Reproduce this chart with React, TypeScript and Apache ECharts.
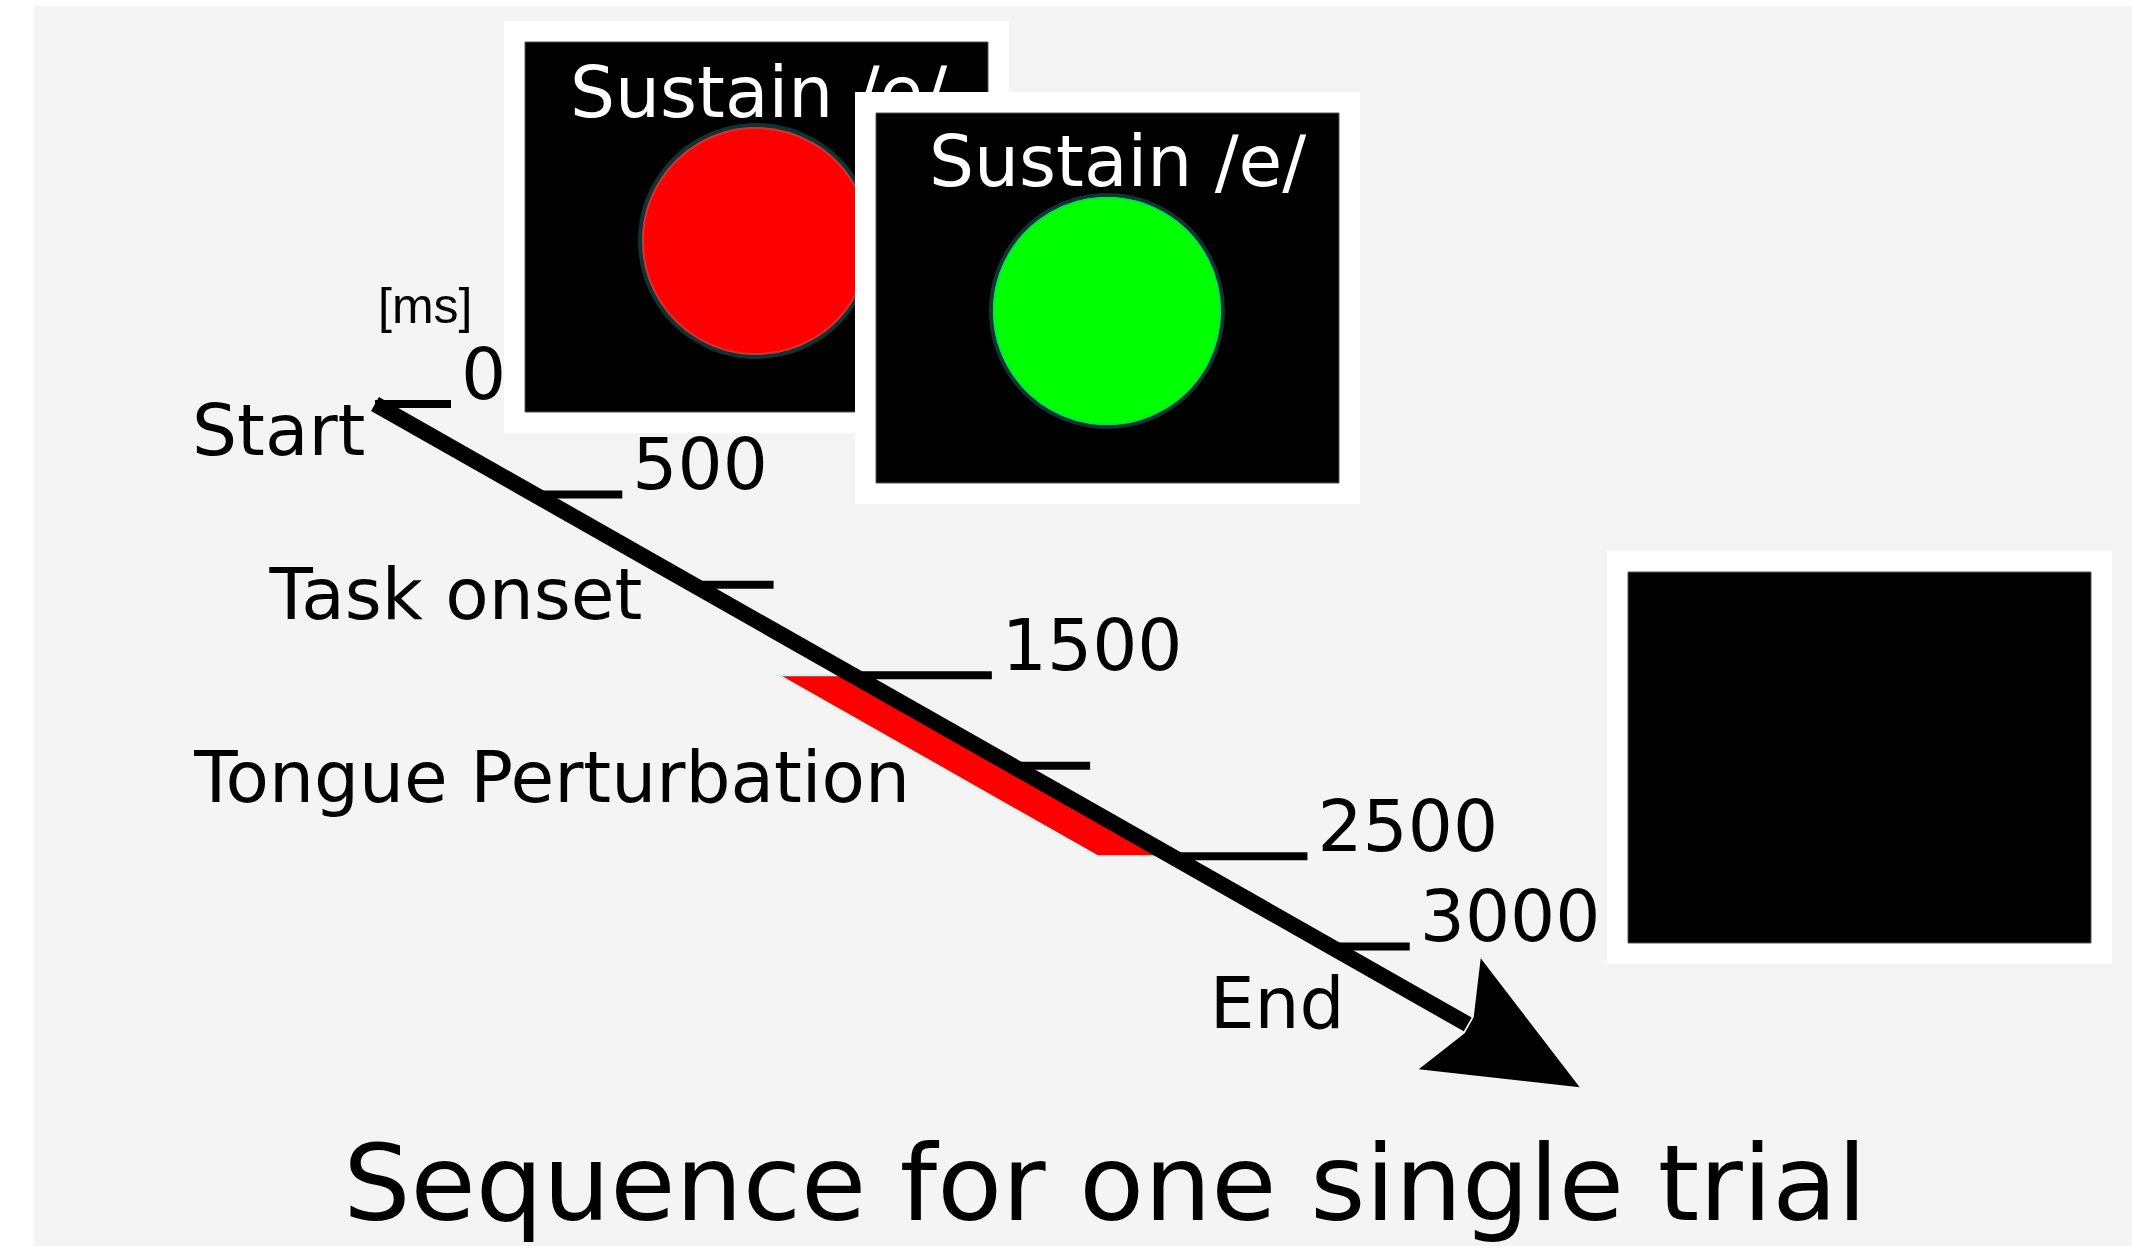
import React, { useEffect, useRef } from "react";
import * as echarts from "echarts";

// ---------- data ----------
const tickTimes = [0, 500, 1000, 1500, 2000, 2500, 3000];
const tickLabels = ["0", "500", "", "1500", "", "2500", "3000"];
const eventNames = ["Start", "Task onset", "Tongue Perturbation", "End"];
const eventTimes = [0, 1000, 2000, 3000];
const perturbationWindow = [1500, 2500];
const timelineRange = [0, 3430];
const unitLabel = "[ms]";
const cueTexts = ["Sustain /e/", "Sustain /e/"];
const titleText = "Sequence for one single trial";

// ---------- styles ----------
const FONT = "DejaVu Sans";
const FS = 71;
const LINE_W = 16;
const TICK_LEN = [60, 72, 64, 123, 62, 120, 63];
const EVENT_OFFSETS = [
  [-183, 26],
  [-424, 10],
  [-818, 12],
  [-121, 57],
];

function panel(x: number, y: number, h: number, children: any[]) {
  return {
    type: "group",
    x,
    y,
    children: [
      { type: "rect", shape: { x: 0, y: 0, width: 505, height: h }, style: { fill: "#ffffff" } },
      {
        type: "rect",
        shape: { x: 21, y: 21, width: 463, height: h - 42 },
        style: { fill: "#000000", stroke: "#555555", lineWidth: 1 },
      },
      ...children,
    ],
  };
}

function cue(cx: number, cy: number, fill: string, ring: string, tx: number, ty: number, text: string) {
  return [
    { type: "circle", shape: { cx, cy, r: 116 }, style: { fill, stroke: "#0e3434", lineWidth: 4 } },
    { type: "circle", shape: { cx, cy, r: 113 }, style: { fill: "none", stroke: ring, lineWidth: 2 } },
    {
      type: "text",
      x: tx,
      y: ty,
      style: { text, fill: "#ffffff", fontSize: FS, fontFamily: FONT, align: "left", verticalAlign: "middle" },
    },
  ];
}

export default function App() {
  const ref = useRef<HTMLDivElement>(null);
  useEffect(() => {
    const chart = echarts.init(ref.current!, undefined, { renderer: "svg", width: 2132, height: 1246 });
    const option: any = {
      animation: false,
      backgroundColor: "#ffffff",
      grid: { left: 375, top: 404, width: 1115, height: 633, containLabel: false },
      xAxis: { type: "value", min: 0, max: 3500, show: false },
      yAxis: { type: "value", min: 0, max: 3500, inverse: true, show: false },
      graphic: [
        { type: "rect", shape: { x: 34, y: 6, width: 2098, height: 1240 }, style: { fill: "#f4f4f4" } },
        panel(504, 21, 412, cue(252, 220, "#ff0000", "#c83737", 66, 71, cueTexts[0])),
        panel(855, 92, 412, cue(252, 219, "#00ff00", "#00e844", 74, 69, cueTexts[1])),
        panel(1607, 551, 413, []),
        {
          type: "text",
          x: 378,
          y: 306,
          style: { text: unitLabel, fill: "#000", fontSize: 50, fontFamily: "Liberation Sans", align: "left", verticalAlign: "middle" },
        },
        {
          type: "text",
          x: 1105,
          y: 1183,
          style: { text: titleText, fill: "#000", fontSize: 106, fontFamily: FONT, align: "center", verticalAlign: "middle" },
        },
      ],
      series: [
        {
          type: "custom",
          z: 1,
          silent: true,
          data: [[perturbationWindow[0], perturbationWindow[1]]],
          renderItem: (_p: any, api: any) => {
            const a = api.value(0);
            const b = api.value(1);
            const p1 = api.coord([a, a]);
            const p2 = api.coord([b, b]);
            const off = LINE_W;
            const w = 58;
            return {
              type: "polygon",
              shape: {
                points: [
                  [p1[0] - off + 6, p1[1]],
                  [p2[0] - off + 6, p2[1]],
                  [p2[0] - off - w, p2[1]],
                  [p1[0] - off - w, p1[1]],
                ],
              },
              style: { fill: "#ff0000", stroke: "#c6f2f2", lineWidth: 2 },
            };
          },
        },
        {
          type: "line",
          z: 2,
          silent: true,
          clip: false,
          showSymbol: false,
          symbol: "none",
          data: [
            [timelineRange[0], timelineRange[0]],
            [timelineRange[1], timelineRange[1]],
          ],
          lineStyle: { color: "#000000", width: LINE_W },
        },
        {
          type: "custom",
          z: 3,
          silent: true,
          data: [[timelineRange[1], timelineRange[1]]],
          renderItem: (_p: any, api: any) => {
            const t = api.value(0);
            const p = api.coord([t, t]);
            const rel = [
              [13, -66],
              [6, -7],
              [-3, 9],
              [-49, 45],
              [112, 63],
            ];
            return {
              type: "polygon",
              shape: { points: rel.map((d) => [p[0] + d[0], p[1] + d[1]]) },
              style: { fill: "#000000" },
            };
          },
        },
        {
          type: "custom",
          z: 3,
          silent: true,
          data: tickTimes.map((t, i) => [t, t, i]),
          renderItem: (_p: any, api: any) => {
            const t = api.value(0);
            const i = api.value(2);
            const p = api.coord([t, t]);
            const x2 = p[0] + LINE_W + TICK_LEN[i];
            const children: any[] = [
              { type: "line", shape: { x1: p[0], y1: p[1], x2, y2: p[1] }, style: { stroke: "#000", lineWidth: 8 } },
            ];
            if (tickLabels[i]) {
              children.push({
                type: "text",
                x: x2 + 10,
                y: p[1] - 30,
                style: { text: tickLabels[i], fill: "#000", fontSize: FS, fontFamily: FONT, align: "left", verticalAlign: "middle" },
              });
            }
            return { type: "group", children };
          },
        },
        {
          type: "custom",
          z: 3,
          silent: true,
          data: eventTimes.map((t, i) => [t, t, i]),
          renderItem: (_p: any, api: any) => {
            const t = api.value(0);
            const i = api.value(2);
            const p = api.coord([t, t]);
            return {
              type: "text",
              x: p[0] + EVENT_OFFSETS[i][0],
              y: p[1] + EVENT_OFFSETS[i][1],
              style: { text: eventNames[i], fill: "#000", fontSize: FS, fontFamily: FONT, align: "left", verticalAlign: "middle" },
            };
          },
        },
      ],
    };
    chart.setOption(option);
    return () => chart.dispose();
  }, []);
  return <div ref={ref} style={{ position: "absolute", left: 0, top: 0, width: 2132, height: 1246 }} />;
}
